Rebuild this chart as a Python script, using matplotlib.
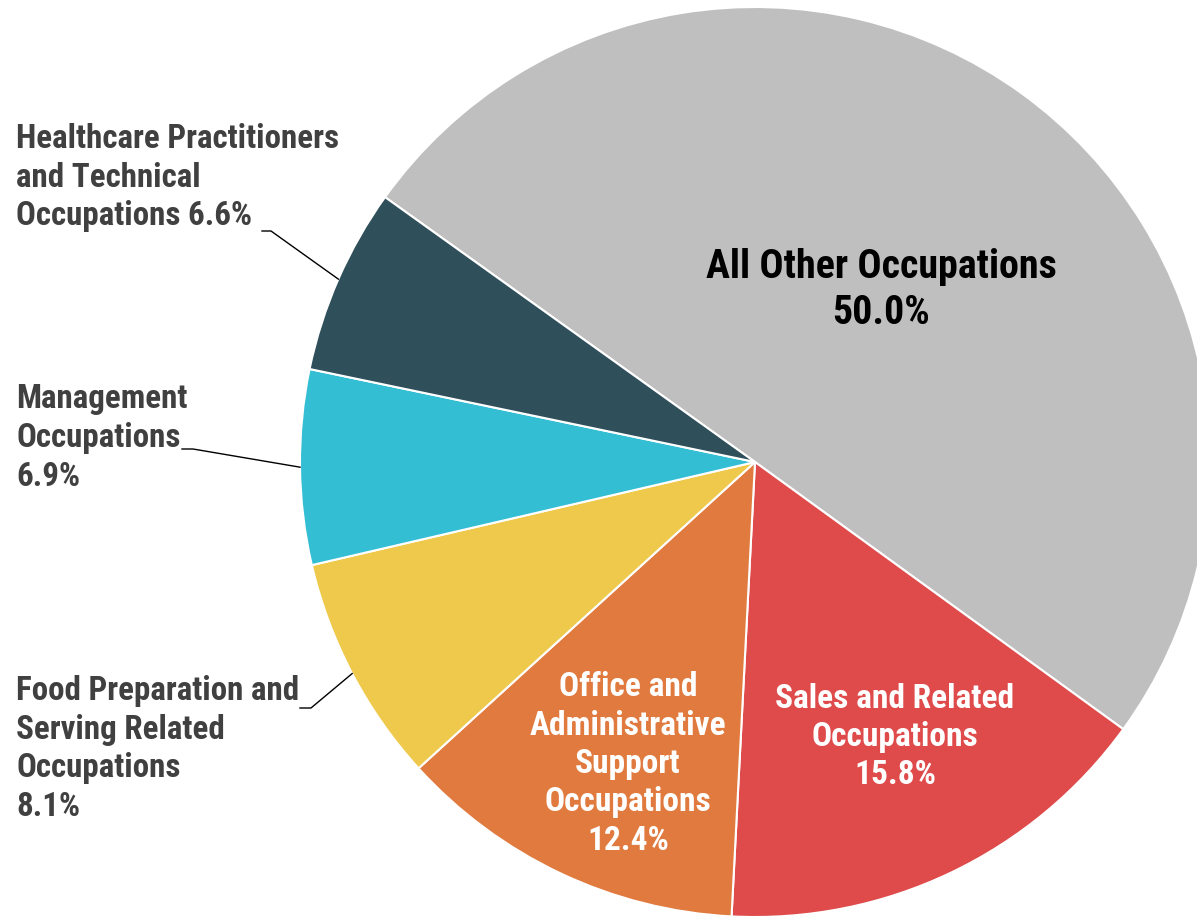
import matplotlib
matplotlib.use("Agg")
import matplotlib.pyplot as plt
from matplotlib import font_manager as fm
import numpy as np

categories = ["All Other Occupations", "Sales and Related Occupations",
              "Office and Administrative Support Occupations",
              "Food Preparation and Serving Related Occupations",
              "Management Occupations",
              "Healthcare Practitioners and Technical Occupations"]
values = [50.0, 15.8, 12.4, 8.1, 6.9, 6.6]
colors = ["#BFBFBF", "#DF4A4A", "#E07A3E", "#EEC94C", "#33BED4", "#2F4F5B"]
label_texts = ["All Other Occupations\n50.0%",
               "Sales and Related\nOccupations\n15.8%",
               "Office and\nAdministrative\nSupport\nOccupations\n12.4%",
               "Food Preparation and\nServing Related\nOccupations\n8.1%",
               "Management\nOccupations\n6.9%",
               "Healthcare Practitioners\nand Technical\nOccupations 6.6%"]

# pick a condensed font if available
names = {f.name for f in fm.fontManager.ttflist}
stretch = 'normal'
chosen = None
for cand in ["Liberation Sans Narrow", "Roboto Condensed", "Open Sans Condensed",
             "DejaVu Sans Condensed", "Noto Sans Condensed"]:
    if cand in names:
        chosen = cand
        break
if chosen is None:
    cond = [f for f in fm.fontManager.ttflist
            if f.name == "DejaVu Sans" and str(f.stretch) in ("condensed", "semi-condensed")]
    if cond:
        chosen, stretch = "DejaVu Sans", "condensed"
    else:
        chosen = "Roboto" if "Roboto" in names else "DejaVu Sans"
FONT = [chosen, "DejaVu Sans"]
plt.rcParams['font.family'] = FONT
plt.rcParams['font.stretch'] = stretch

W, H = 1197, 918
fig = plt.figure(figsize=(W / 100, H / 100), dpi=100)
cx, cy, R = 755, 462, 455
ax = fig.add_axes([(cx - R) / W, (H - cy - R) / H, 2 * R / W, 2 * R / H])

wedges, _ = ax.pie(values, colors=colors, startangle=144.4, counterclock=False,
                   radius=1.0, wedgeprops=dict(edgecolor='white', linewidth=1.5),
                   normalize=True)
ax.set_xlim(-1, 1)
ax.set_ylim(-1, 1)
ax.set_aspect('equal')
ax.axis('off')
for w in wedges:
    w.set_clip_on(False)

def px2d(px, py):
    return ((px - cx) / R, (cy - py) / R)

narrow = chosen not in ("Roboto", "DejaVu Sans") or stretch == "condensed"
k = 1.0 if narrow else 0.85
fs_out = 23.8 * k
fs_in = 24 * k
fs_big = 28.8 * k

# inside labels
inside = [(0, 881, 290, 'black', fs_big, 1.3), (1, 895, 737, 'white', fs_in, 1.26),
          (2, 628, 764, 'white', fs_in, 1.25)]
for i, px, py, col, fs, ls in inside:
    x, y = px2d(px, py)
    ax.text(x, y, label_texts[i], ha='center', va='center', color=col,
            fontsize=fs, fontweight='bold', linespacing=ls)

# outside labels with leader lines
outside = [(5, 125, (262, 231), (271, 231)),
           (4, 385, (182, 449), (193, 449)),
           (3, 677, (300, 708), (311, 708))]
for i, top, p0, p1 in outside:
    fig.text(16 / W, 1 - (top - 2) / H, label_texts[i], ha='left', va='top',
             color='#404040', fontsize=fs_out, fontweight='bold', linespacing=1.27)
    w = wedges[i]
    mid = np.deg2rad((w.theta1 + w.theta2) / 2)
    ex, ey = np.cos(mid), np.sin(mid)
    a = px2d(*p0)
    b = px2d(*p1)
    ax.plot([a[0], b[0], ex], [a[1], b[1], ey], color='black', lw=1.0, clip_on=False)

fig.savefig("out.png", dpi=100)
